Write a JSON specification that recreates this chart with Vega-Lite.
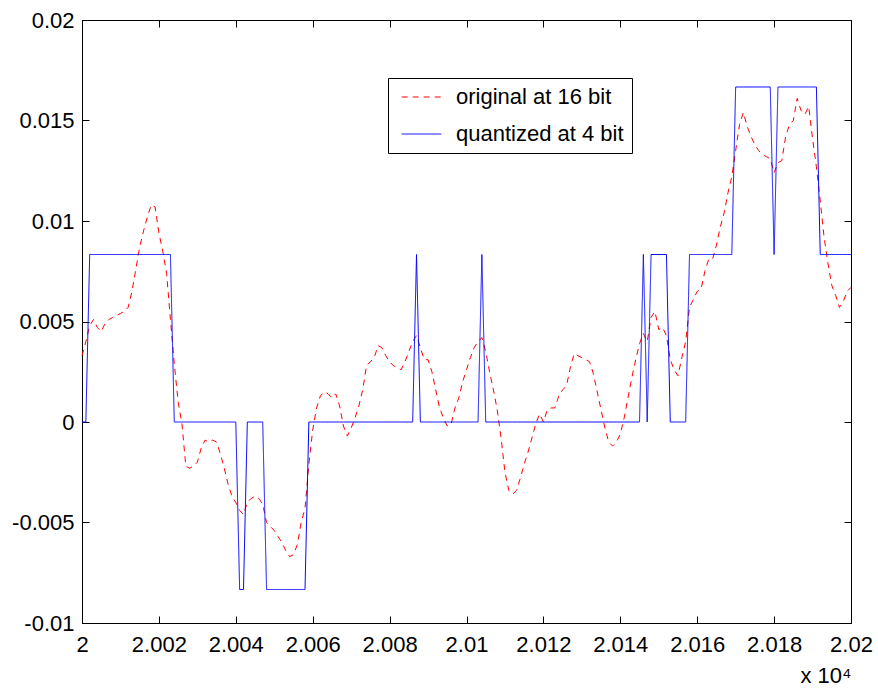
{
"$schema": "https://vega.github.io/schema/vega-lite/v6.json",
"width": 769, "height": 603,
"autosize": "none",
"padding": {"left": 82, "top": 20, "right": 27, "bottom": 76},
"background": "white",
"config": {
  "view": {"stroke": "black", "strokeWidth": 1},
  "font": "Liberation Sans",
  "axis": {"domainColor": "black", "tickColor": "black", "labelColor": "black", "titleColor": "black", "labelFont": "Liberation Sans", "titleFont": "Liberation Sans", "labelFontSize": 22, "titleFontSize": 22, "titleFontWeight": "normal", "grid": false, "tickSize": -7, "domainWidth": 1, "tickWidth": 1}
},
"data": {"values": [
{"x":20000,"o":0.0033,"q":0},{"x":20001,"o":0.0040,"q":0},{"x":20002,"o":0.0048,"q":0.008333},{"x":20003,"o":0.0051,"q":0.008333},{"x":20004,"o":0.0047,"q":0.008333},
{"x":20005,"o":0.0045,"q":0.008333},{"x":20006,"o":0.0049,"q":0.008333},{"x":20007,"o":0.0051,"q":0.008333},{"x":20008,"o":0.0052,"q":0.008333},{"x":20009,"o":0.0053,"q":0.008333},
{"x":20010,"o":0.0054,"q":0.008333},{"x":20011,"o":0.0055,"q":0.008333},{"x":20012,"o":0.0057,"q":0.008333},{"x":20013,"o":0.0065,"q":0.008333},{"x":20014,"o":0.0076,"q":0.008333},
{"x":20015,"o":0.0087,"q":0.008333},{"x":20016,"o":0.0095,"q":0.008333},{"x":20017,"o":0.0102,"q":0.008333},{"x":20018,"o":0.0108,"q":0.008333},{"x":20019,"o":0.0107,"q":0.008333},
{"x":20020,"o":0.0094,"q":0.008333},{"x":20021,"o":0.0085,"q":0.008333},{"x":20022,"o":0.0074,"q":0.008333},{"x":20023,"o":0.0051,"q":0.008333},{"x":20024,"o":0.0029,"q":0},
{"x":20025,"o":0.0010,"q":0},{"x":20026,"o":-0.0001,"q":0},{"x":20027,"o":-0.0022,"q":0},{"x":20028,"o":-0.0023,"q":0},{"x":20029,"o":-0.0022,"q":0},
{"x":20030,"o":-0.0020,"q":0},{"x":20031,"o":-0.0013,"q":0},{"x":20032,"o":-0.0009,"q":0},{"x":20033,"o":-0.0010,"q":0},{"x":20034,"o":-0.0009,"q":0},
{"x":20035,"o":-0.0010,"q":0},{"x":20036,"o":-0.0016,"q":0},{"x":20037,"o":-0.0023,"q":0},{"x":20038,"o":-0.0031,"q":0},{"x":20039,"o":-0.0037,"q":0},
{"x":20040,"o":-0.0040,"q":0},{"x":20041,"o":-0.0044,"q":-0.008333},{"x":20042,"o":-0.0046,"q":-0.008333},{"x":20043,"o":-0.0040,"q":0},{"x":20044,"o":-0.0038,"q":0},
{"x":20045,"o":-0.0037,"q":0},{"x":20046,"o":-0.0038,"q":0},{"x":20047,"o":-0.0041,"q":0},{"x":20048,"o":-0.0050,"q":-0.008333},{"x":20049,"o":-0.0052,"q":-0.008333},
{"x":20050,"o":-0.0054,"q":-0.008333},{"x":20051,"o":-0.0057,"q":-0.008333},{"x":20052,"o":-0.0060,"q":-0.008333},{"x":20053,"o":-0.0064,"q":-0.008333},{"x":20054,"o":-0.0067,"q":-0.008333},
{"x":20055,"o":-0.0066,"q":-0.008333},{"x":20056,"o":-0.0061,"q":-0.008333},{"x":20057,"o":-0.0050,"q":-0.008333},{"x":20058,"o":-0.0043,"q":-0.008333},{"x":20059,"o":-0.0021,"q":0},
{"x":20060,"o":-0.0004,"q":0},{"x":20061,"o":0.0007,"q":0},{"x":20062,"o":0.0013,"q":0},{"x":20063,"o":0.0015,"q":0},{"x":20064,"o":0.0014,"q":0},
{"x":20065,"o":0.0012,"q":0},{"x":20066,"o":0.0014,"q":0},{"x":20067,"o":0.0008,"q":0},{"x":20068,"o":-0.0002,"q":0},{"x":20069,"o":-0.0007,"q":0},
{"x":20070,"o":-0.0003,"q":0},{"x":20071,"o":0.0002,"q":0},{"x":20072,"o":0.0008,"q":0},{"x":20073,"o":0.0016,"q":0},{"x":20074,"o":0.0028,"q":0},
{"x":20075,"o":0.0030,"q":0},{"x":20076,"o":0.0032,"q":0},{"x":20077,"o":0.0038,"q":0},{"x":20078,"o":0.0037,"q":0},{"x":20079,"o":0.0033,"q":0},
{"x":20080,"o":0.0030,"q":0},{"x":20081,"o":0.0028,"q":0},{"x":20082,"o":0.0027,"q":0},{"x":20083,"o":0.0026,"q":0},{"x":20084,"o":0.0030,"q":0},
{"x":20085,"o":0.0035,"q":0},{"x":20086,"o":0.0040,"q":0},{"x":20087,"o":0.0043,"q":0.008333},{"x":20088,"o":0.0037,"q":0},{"x":20089,"o":0.0031,"q":0},
{"x":20090,"o":0.0031,"q":0},{"x":20091,"o":0.0025,"q":0},{"x":20092,"o":0.0016,"q":0},{"x":20093,"o":0.0007,"q":0},{"x":20094,"o":0.0002,"q":0},
{"x":20095,"o":-0.0002,"q":0},{"x":20096,"o":-0.0001,"q":0},{"x":20097,"o":0.0007,"q":0},{"x":20098,"o":0.0012,"q":0},{"x":20099,"o":0.0020,"q":0},
{"x":20100,"o":0.0026,"q":0},{"x":20101,"o":0.0032,"q":0},{"x":20102,"o":0.0037,"q":0},{"x":20103,"o":0.0040,"q":0},{"x":20104,"o":0.0042,"q":0.008333},
{"x":20105,"o":0.0035,"q":0},{"x":20106,"o":0.0025,"q":0},{"x":20107,"o":0.0016,"q":0},{"x":20108,"o":0.0006,"q":0},{"x":20109,"o":-0.0008,"q":0},
{"x":20110,"o":-0.0025,"q":0},{"x":20111,"o":-0.0034,"q":0},{"x":20112,"o":-0.0036,"q":0},{"x":20113,"o":-0.0034,"q":0},{"x":20114,"o":-0.0028,"q":0},
{"x":20115,"o":-0.0021,"q":0},{"x":20116,"o":-0.0015,"q":0},{"x":20117,"o":-0.0008,"q":0},{"x":20118,"o":-0.0001,"q":0},{"x":20119,"o":0.0004,"q":0},
{"x":20120,"o":0.0000,"q":0},{"x":20121,"o":0.0006,"q":0},{"x":20122,"o":0.0007,"q":0},{"x":20123,"o":0.0007,"q":0},{"x":20124,"o":0.0013,"q":0},
{"x":20125,"o":0.0016,"q":0},{"x":20126,"o":0.0018,"q":0},{"x":20127,"o":0.0027,"q":0},{"x":20128,"o":0.0034,"q":0},{"x":20129,"o":0.0033,"q":0},
{"x":20130,"o":0.0032,"q":0},{"x":20131,"o":0.0031,"q":0},{"x":20132,"o":0.0030,"q":0},{"x":20133,"o":0.0024,"q":0},{"x":20134,"o":0.0015,"q":0},
{"x":20135,"o":0.0006,"q":0},{"x":20136,"o":-0.0003,"q":0},{"x":20137,"o":-0.0010,"q":0},{"x":20138,"o":-0.0012,"q":0},{"x":20139,"o":-0.0010,"q":0},
{"x":20140,"o":-0.0006,"q":0},{"x":20141,"o":0.0002,"q":0},{"x":20142,"o":0.0012,"q":0},{"x":20143,"o":0.0022,"q":0},{"x":20144,"o":0.0031,"q":0},
{"x":20145,"o":0.0039,"q":0},{"x":20146,"o":0.0044,"q":0.008333},{"x":20147,"o":0.0040,"q":0},{"x":20148,"o":0.0052,"q":0.008333},{"x":20149,"o":0.0055,"q":0.008333},
{"x":20150,"o":0.0046,"q":0.008333},{"x":20151,"o":0.0047,"q":0.008333},{"x":20152,"o":0.0043,"q":0.008333},{"x":20153,"o":0.0031,"q":0},{"x":20154,"o":0.0026,"q":0},
{"x":20155,"o":0.0023,"q":0},{"x":20156,"o":0.0032,"q":0},{"x":20157,"o":0.0040,"q":0},{"x":20158,"o":0.0057,"q":0.008333},{"x":20159,"o":0.0061,"q":0.008333},
{"x":20160,"o":0.0065,"q":0.008333},{"x":20161,"o":0.0066,"q":0.008333},{"x":20162,"o":0.0075,"q":0.008333},{"x":20163,"o":0.0081,"q":0.008333},{"x":20164,"o":0.0081,"q":0.008333},
{"x":20165,"o":0.0088,"q":0.008333},{"x":20166,"o":0.0097,"q":0.008333},{"x":20167,"o":0.0104,"q":0.008333},{"x":20168,"o":0.0114,"q":0.008333},{"x":20169,"o":0.0122,"q":0.008333},
{"x":20170,"o":0.0135,"q":0.016667},{"x":20171,"o":0.0148,"q":0.016667},{"x":20172,"o":0.0154,"q":0.016667},{"x":20173,"o":0.0147,"q":0.016667},{"x":20174,"o":0.0142,"q":0.016667},
{"x":20175,"o":0.0138,"q":0.016667},{"x":20176,"o":0.0135,"q":0.016667},{"x":20177,"o":0.0133,"q":0.016667},{"x":20178,"o":0.0132,"q":0.016667},{"x":20179,"o":0.0131,"q":0.016667},
{"x":20180,"o":0.0124,"q":0.008333},{"x":20181,"o":0.0129,"q":0.016667},{"x":20182,"o":0.0130,"q":0.016667},{"x":20183,"o":0.0142,"q":0.016667},{"x":20184,"o":0.0148,"q":0.016667},
{"x":20185,"o":0.0150,"q":0.016667},{"x":20186,"o":0.0161,"q":0.016667},{"x":20187,"o":0.0155,"q":0.016667},{"x":20188,"o":0.0153,"q":0.016667},{"x":20189,"o":0.0157,"q":0.016667},
{"x":20190,"o":0.0141,"q":0.016667},{"x":20191,"o":0.0127,"q":0.016667},{"x":20192,"o":0.0110,"q":0.008333},{"x":20193,"o":0.0092,"q":0.008333},{"x":20194,"o":0.0079,"q":0.008333},
{"x":20195,"o":0.0068,"q":0.008333},{"x":20196,"o":0.0063,"q":0.008333},{"x":20197,"o":0.0057,"q":0.008333},{"x":20198,"o":0.0060,"q":0.008333},{"x":20199,"o":0.0065,"q":0.008333},
{"x":20200,"o":0.0067,"q":0.008333}
]},
"transform": [{"fold": ["o", "q"], "as": ["series", "y"]}],
"layer": [
  {
    "transform": [{"filter": "datum.series == 'o'"}],
    "mark": {"type": "line", "strokeWidth": 1},
    "encoding": {
      "x": {"field": "x", "type": "quantitative",
        "scale": {"domain": [20000, 20200], "nice": false, "zero": false},
        "axis": {"orient": "bottom", "values": [20000,20020,20040,20060,20080,20100,20120,20140,20160,20180,20200],
          "labelExpr": "format(datum.value/10000, '~f')", "labelPadding": 18, "labelFlush": false,
          "title": "x 10⁴", "titleAnchor": "end", "titleAlign": "right", "titlePadding": 10}},
      "y": {"field": "y", "type": "quantitative",
        "scale": {"domain": [-0.01, 0.02], "nice": false, "zero": false},
        "axis": {"orient": "left", "values": [-0.01,-0.005,0,0.005,0.01,0.015,0.02],
          "labelExpr": "replace(format(datum.value, '~f'), '−', '-')", "labelPadding": 15, "labelFlush": false, "title": null}},
      "color": {"field": "series", "type": "nominal",
        "scale": {"domain": ["o", "q"], "range": ["#ff0000", "#0000ff"]},
        "legend": {"title": null, "orient": "none", "legendX": 306, "legendY": 58,
          "labelExpr": "datum.label == 'o' ? 'original at 16 bit' : 'quantized at 4 bit   '",
          "symbolType": "M-1.8,0L1.8,0", "symbolSize": 484, "symbolStrokeWidth": 1,
          "labelFontSize": 22, "labelFont": "Liberation Sans", "labelColor": "black", "labelLimit": 400,
          "strokeColor": "black", "fillColor": "white", "padding": 7.5, "symbolOffset": 14.5,
          "rowPadding": 14, "labelOffset": 23, "cornerRadius": 0}},
      "strokeDash": {"field": "series", "type": "nominal",
        "scale": {"domain": ["o", "q"], "range": [[6, 5], [1, 0]]},
        "legend": {"title": null, "orient": "none", "legendX": 306, "legendY": 58,
          "labelExpr": "datum.label == 'o' ? 'original at 16 bit' : 'quantized at 4 bit   '",
          "symbolType": "M-1.8,0L1.8,0", "symbolSize": 484, "symbolStrokeWidth": 1,
          "labelFontSize": 22, "labelFont": "Liberation Sans", "labelColor": "black", "labelLimit": 400,
          "strokeColor": "black", "fillColor": "white", "padding": 7.5, "symbolOffset": 14.5,
          "rowPadding": 14, "labelOffset": 23, "cornerRadius": 0}}
    }
  },
  {
    "transform": [{"filter": "datum.series == 'q'"}],
    "mark": {"type": "line", "strokeWidth": 1},
    "encoding": {
      "x": {"field": "x", "type": "quantitative",
        "scale": {"domain": [20000, 20200], "nice": false, "zero": false},
        "axis": {"orient": "top", "values": [20000,20020,20040,20060,20080,20100,20120,20140,20160,20180,20200], "labels": false, "title": null}},
      "y": {"field": "y", "type": "quantitative",
        "scale": {"domain": [-0.01, 0.02], "nice": false, "zero": false},
        "axis": {"orient": "right", "values": [-0.01,-0.005,0,0.005,0.01,0.015,0.02], "labels": false, "title": null}},
      "color": {"field": "series", "type": "nominal"},
      "strokeDash": {"field": "series", "type": "nominal"}
    }
  }
],
"resolve": {"axis": {"x": "independent", "y": "independent"}}
}
